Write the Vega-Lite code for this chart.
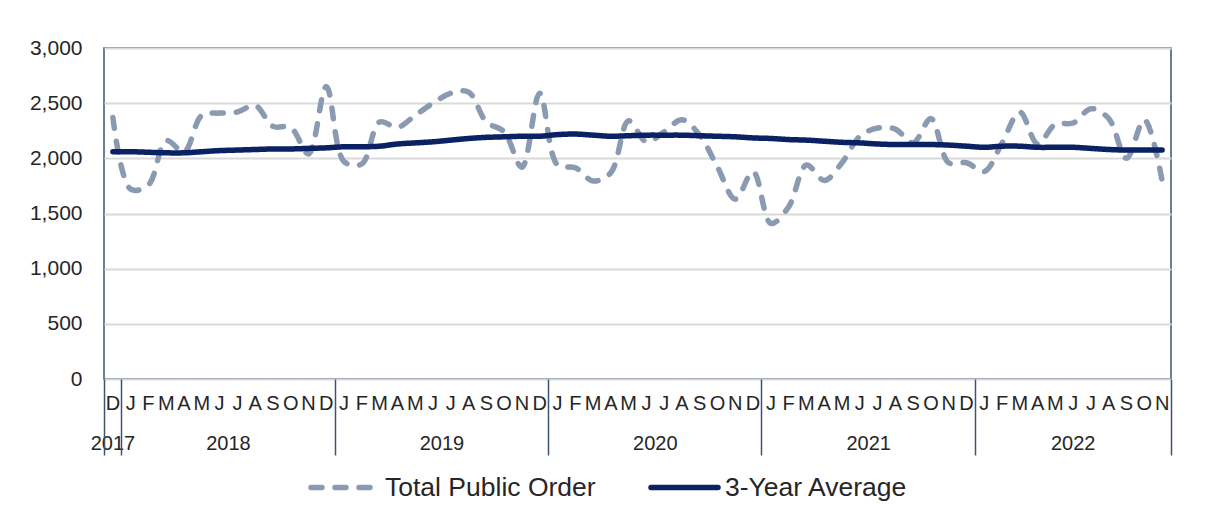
{
  "$schema": "https://vega.github.io/schema/vega-lite/v6.json",
  "width": 1067,
  "height": 331,
  "autosize": {"type": "none"},
  "padding": {"left": 104, "top": 48, "right": 34, "bottom": 127},
  "background": "white",
  "config": {
    "font": "Liberation Sans",
    "view": {"stroke": "#3C5374", "strokeWidth": 1.5},
    "legend": {
      "orient": "none",
      "legendX": 204,
      "legendY": 403,
      "direction": "horizontal",
      "symbolType": "stroke",
      "symbolSize": 4489,
      "symbolStrokeWidth": 5.5,
      "labelFontSize": 26.5,
      "labelFont": "Liberation Sans",
      "labelColor": "#262626",
      "labelOffset": 4,
      "labelLimit": 0,
      "columnPadding": 44,
      "padding": 0
    }
  },
  "data": {
    "values": [
      {"month": "2017-12", "total": 2370, "avg": 2060},
      {"month": "2018-01", "total": 1720, "avg": 2060},
      {"month": "2018-02", "total": 1760, "avg": 2055},
      {"month": "2018-03", "total": 2160, "avg": 2050},
      {"month": "2018-04", "total": 2060, "avg": 2050},
      {"month": "2018-05", "total": 2390, "avg": 2060},
      {"month": "2018-06", "total": 2410, "avg": 2070},
      {"month": "2018-07", "total": 2420, "avg": 2075},
      {"month": "2018-08", "total": 2480, "avg": 2080},
      {"month": "2018-09", "total": 2290, "avg": 2085},
      {"month": "2018-10", "total": 2280, "avg": 2085},
      {"month": "2018-11", "total": 2040, "avg": 2090},
      {"month": "2018-12", "total": 2650, "avg": 2095},
      {"month": "2019-01", "total": 1970, "avg": 2105},
      {"month": "2019-02", "total": 1950, "avg": 2105},
      {"month": "2019-03", "total": 2330, "avg": 2110},
      {"month": "2019-04", "total": 2280, "avg": 2130},
      {"month": "2019-05", "total": 2390, "avg": 2140},
      {"month": "2019-06", "total": 2500, "avg": 2150},
      {"month": "2019-07", "total": 2590, "avg": 2165},
      {"month": "2019-08", "total": 2600, "avg": 2180},
      {"month": "2019-09", "total": 2330, "avg": 2190},
      {"month": "2019-10", "total": 2240, "avg": 2195},
      {"month": "2019-11", "total": 1920, "avg": 2200},
      {"month": "2019-12", "total": 2590, "avg": 2200},
      {"month": "2020-01", "total": 1940, "avg": 2215},
      {"month": "2020-02", "total": 1915, "avg": 2220},
      {"month": "2020-03", "total": 1795, "avg": 2210},
      {"month": "2020-04", "total": 1870, "avg": 2200},
      {"month": "2020-05", "total": 2340, "avg": 2205},
      {"month": "2020-06", "total": 2150, "avg": 2210},
      {"month": "2020-07", "total": 2240, "avg": 2210},
      {"month": "2020-08", "total": 2350, "avg": 2210},
      {"month": "2020-09", "total": 2210, "avg": 2205},
      {"month": "2020-10", "total": 1920, "avg": 2200},
      {"month": "2020-11", "total": 1630, "avg": 2195},
      {"month": "2020-12", "total": 1880, "avg": 2185},
      {"month": "2021-01", "total": 1410, "avg": 2180},
      {"month": "2021-02", "total": 1560, "avg": 2170},
      {"month": "2021-03", "total": 1940, "avg": 2165},
      {"month": "2021-04", "total": 1800, "avg": 2155},
      {"month": "2021-05", "total": 1960, "avg": 2145},
      {"month": "2021-06", "total": 2200, "avg": 2140},
      {"month": "2021-07", "total": 2275, "avg": 2130},
      {"month": "2021-08", "total": 2265, "avg": 2125},
      {"month": "2021-09", "total": 2140, "avg": 2125},
      {"month": "2021-10", "total": 2360, "avg": 2125},
      {"month": "2021-11", "total": 1960, "avg": 2120},
      {"month": "2021-12", "total": 1960, "avg": 2110},
      {"month": "2022-01", "total": 1880, "avg": 2100},
      {"month": "2022-02", "total": 2140, "avg": 2110},
      {"month": "2022-03", "total": 2420, "avg": 2110},
      {"month": "2022-04", "total": 2130, "avg": 2100},
      {"month": "2022-05", "total": 2310, "avg": 2100},
      {"month": "2022-06", "total": 2320, "avg": 2100},
      {"month": "2022-07", "total": 2450, "avg": 2090},
      {"month": "2022-08", "total": 2360, "avg": 2080},
      {"month": "2022-09", "total": 2000, "avg": 2075},
      {"month": "2022-10", "total": 2350, "avg": 2075},
      {"month": "2022-11", "total": 1800, "avg": 2075}
    ]
  },
  "resolve": {"axis": {"x": "independent"}},
  "layer": [
    {
      "mark": {"type": "line", "interpolate": "catmull-rom", "strokeWidth": 5.5, "strokeCap": "round"},
      "encoding": {
        "x": {
          "field": "month", "type": "ordinal",
          "scale": {"type": "band", "paddingInner": 0, "paddingOuter": 0},
          "axis": {
            "orient": "bottom",
            "title": null, "domain": false, "ticks": false, "tickSize": 0, "grid": false,
            "bandPosition": 0.5, "labelAngle": 0, "labelPadding": 24, "labelBaseline": "middle",
            "labelFontSize": 20, "labelFont": "Liberation Sans", "labelColor": "#262626",
            "labelOverlap": false, "labelFlush": false, "labelBound": false,
            "labelExpr": "slice('JFMAMJJASOND', toNumber(slice(datum.value, 5, 7)) - 1, toNumber(slice(datum.value, 5, 7)))"
          }
        },
        "y": {
          "field": "total", "type": "quantitative",
          "scale": {"domain": [0, 3000], "nice": false, "zero": true},
          "axis": {
            "title": null, "domain": false, "ticks": false, "tickSize": 0,
            "values": [0, 500, 1000, 1500, 2000, 2500, 3000], "format": ",.0f",
            "labelFontSize": 21, "labelFont": "Liberation Sans", "labelColor": "#262626", "labelPadding": 22,
            "grid": true, "gridColor": "#D9D9D9", "gridWidth": 2
          }
        },
        "color": {
          "datum": "Total Public Order", "type": "nominal",
          "scale": {"domain": ["Total Public Order", "3-Year Average"], "range": ["#8A9BB1", "#0A2263"]},
          "legend": {"title": null, "encode": {"symbols": {"update": {"strokeCap": {"value": "round"}}}}}
        },
        "strokeDash": {
          "datum": "Total Public Order", "type": "nominal",
          "scale": {"domain": ["Total Public Order", "3-Year Average"], "range": [[11, 13], [1, 0]]},
          "legend": {"title": null}
        }
      }
    },
    {
      "mark": {"type": "line", "interpolate": "catmull-rom", "strokeWidth": 5.5, "strokeCap": "round"},
      "encoding": {
        "x": {
          "field": "month", "type": "ordinal",
          "axis": {
            "orient": "bottom",
            "title": null, "domain": false, "ticks": false, "tickSize": 0, "grid": false,
            "bandPosition": 0.5, "labelAngle": 0, "labelPadding": 64, "labelBaseline": "middle",
            "labelFontSize": 20, "labelFont": "Liberation Sans", "labelColor": "#262626",
            "labelOverlap": false, "labelFlush": false, "labelBound": false,
            "values": ["2017-12", "2018-06", "2019-06", "2020-06", "2021-06", "2022-06"],
            "labelOffset": {"condition": {"test": "datum.value == '2017-12' || datum.value == '2022-06'", "value": 0}, "value": 8.9},
            "labelExpr": "slice(datum.value, 0, 4)"
          }
        },
        "y": {
          "field": "avg", "type": "quantitative",
          "axis": {
            "title": null, "domain": false, "ticks": false, "tickSize": 0,
            "values": [0, 500, 1000, 1500, 2000, 2500, 3000], "format": ",.0f",
            "labelFontSize": 21, "labelFont": "Liberation Sans", "labelColor": "#262626", "labelPadding": 22,
            "grid": true, "gridColor": "#D9D9D9", "gridWidth": 2
          }
        },
        "color": {"datum": "3-Year Average", "type": "nominal", "legend": {"title": null}},
        "strokeDash": {"datum": "3-Year Average", "type": "nominal", "legend": {"title": null}}
      }
    },
    {
      "mark": {"type": "point", "opacity": 0},
      "encoding": {
        "x": {
          "field": "month", "type": "ordinal",
          "axis": {
            "orient": "bottom",
            "title": null, "domain": false, "labels": false, "ticks": true, "grid": false,
            "tickSize": 76, "tickColor": "#3C5374", "tickWidth": 1.5, "bandPosition": 0,
            "values": ["2017-12", "2018-01", "2019-01", "2020-01", "2021-01", "2022-01"]
          }
        }
      }
    },
    {
      "mark": {"type": "point", "opacity": 0},
      "encoding": {
        "x": {
          "field": "month", "type": "ordinal",
          "axis": {
            "orient": "bottom",
            "title": null, "domain": false, "labels": false, "ticks": true, "grid": false,
            "tickSize": 76, "tickColor": "#3C5374", "tickWidth": 1.5, "bandPosition": 1,
            "values": ["2022-11"]
          }
        }
      }
    }
  ]
}
